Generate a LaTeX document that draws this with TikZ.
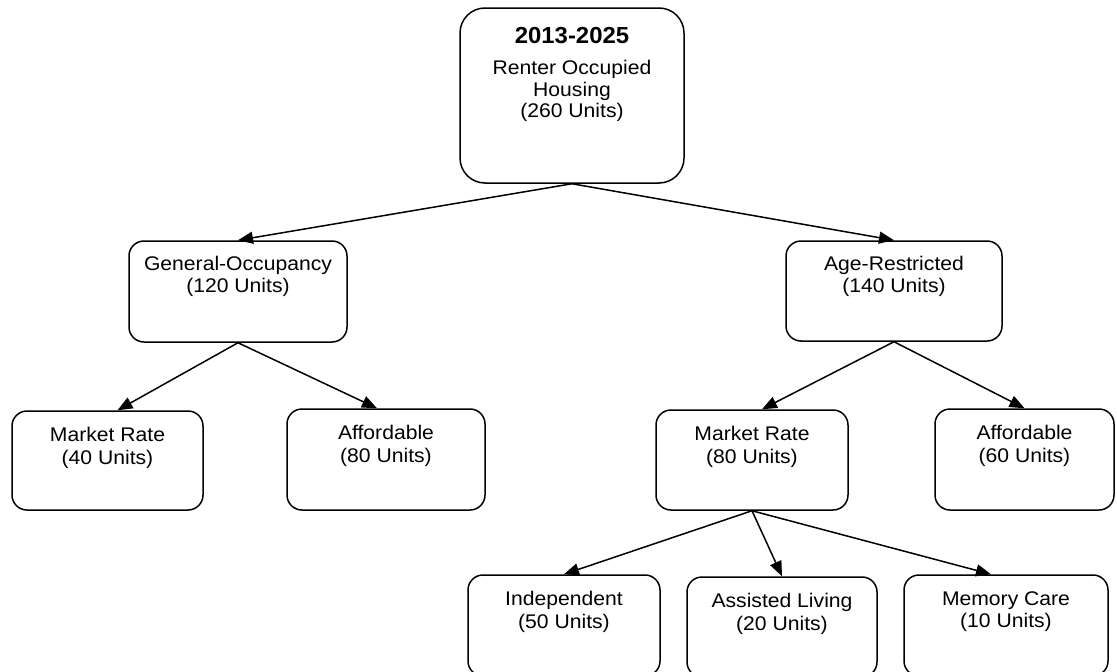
\documentclass[tikz,border=0pt]{standalone}
\usepackage{fontspec}
\setmainfont{Liberation Sans}[FakeStretch=1.07]
\newfontfamily\titlefont{Liberation Sans Bold}[FakeStretch=1.03]
\usetikzlibrary{arrows.meta}
\begin{document}
\begin{tikzpicture}[x=1pt,y=-1pt,
  box/.style={draw, line width=1.5pt, rounded corners=15pt, inner sep=0pt},
  bigbox/.style={box, rounded corners=25pt},
  lbl/.style={anchor=north, align=center, inner sep=0pt,
              font=\fontsize{19.75}{22.6}\selectfont},
  toplbl/.style={lbl, font=\fontsize{19.75}{21.6}\selectfont},
  title/.style={anchor=north, inner sep=0pt,
                font=\fontsize{23.2}{26}\titlefont},
  link/.style={line width=1.5pt, -{Triangle[length=15pt,width=12pt]}},
]
\useasboundingbox (0,0) rectangle (1117,672);

% level 0
\node[bigbox, minimum width=224pt, minimum height=175pt] (top) at (572,95.5) {};
\node[title] (top-y) at ([yshift=-20pt]top.north) {2013-2025};
\node[toplbl] (top-t) at ([yshift=-53pt]top.north) {Renter Occupied\\Housing\\(260 Units)};

% level 1
\node[box, minimum width=218pt, minimum height=101pt] (go) at (238,291.5) {};
\node[lbl] (go-t) at ([yshift=-15.5pt]go.north) {General-Occupancy\\(120 Units)};
\node[box, minimum width=216pt, minimum height=100pt] (ar) at (894,291) {};
\node[lbl] (ar-t) at ([yshift=-15.5pt]ar.north) {Age-Restricted\\(140 Units)};

% level 2
\node[box, minimum width=191pt, minimum height=99pt] (mrl) at (107.5,460.5) {};
\node[lbl] (mrl-t) at ([yshift=-17pt]mrl.north) {Market Rate\\(40 Units)};
\node[box, minimum width=198pt, minimum height=101pt] (afl) at (386,459.5) {};
\node[lbl] (afl-t) at ([yshift=-17pt]afl.north) {Affordable\\(80 Units)};
\node[box, minimum width=192pt, minimum height=100pt] (mrr) at (752,460) {};
\node[lbl] (mrr-t) at ([yshift=-17pt]mrr.north) {Market Rate\\(80 Units)};
\node[box, minimum width=179pt, minimum height=101pt] (afr) at (1024.5,459.5) {};
\node[lbl] (afr-t) at ([yshift=-17pt]afr.north) {Affordable\\(60 Units)};

% level 3
\node[box, minimum width=192pt, minimum height=101pt] (ind) at (564,625.5) {};
\node[lbl] (ind-t) at ([yshift=-17pt]ind.north) {Independent\\(50 Units)};
\node[box, minimum width=190pt, minimum height=100pt] (asl) at (782,627) {};
\node[lbl] (asl-t) at ([yshift=-17pt]asl.north) {Assisted Living\\(20 Units)};
\node[box, minimum width=204pt, minimum height=101pt] (mem) at (1006,625.5) {};
\node[lbl] (mem-t) at ([yshift=-17pt]mem.north) {Memory Care\\(10 Units)};

% connectors
\draw[link] (top.south) -- (go.north);
\draw[link] (top.south) -- (ar.north);
\draw[link] (go.south) -- ([xshift=10pt]mrl.north);
\draw[link] (go.south) -- ([xshift=-9pt]afl.north);
\draw[link] (ar.south) -- ([xshift=10pt]mrr.north);
\draw[link] (ar.south) -- (afr.north);
\draw[link] (mrr.south) -- (ind.north);
\draw[link] (mrr.south) -- (asl.north);
\draw[link] (mrr.south) -- ([xshift=-15pt]mem.north);
\end{tikzpicture}
\end{document}
